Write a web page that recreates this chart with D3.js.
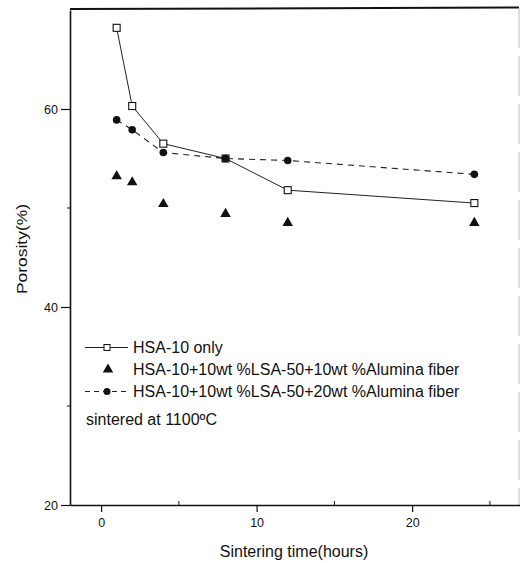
<!DOCTYPE html>
<html>
  <head>
    <meta charset="utf-8" />
    <title>Porosity vs sintering time</title>
    <script src="https://d3js.org/d3.v7.min.js"></script>
    <style>
      body { margin: 0; background: #fff; }
      text { font-family: "Liberation Sans", Arial, sans-serif; fill: #111; }
    </style>
  </head>
  <body>
    <svg width="520" height="563"></svg>
    <script>
      // data
      const hours = [1, 2, 4, 8, 12, 24];
      const hsaOnly = [68.2, 60.3, 56.5, 55.0, 51.8, 50.5];
      const fiber10 = [53.2, 52.6, 50.4, 49.4, 48.5, 48.5];
      const fiber20 = [58.9, 57.9, 55.6, 55.0, 54.8, 53.4];
      const xTicks = [0, 10, 20];
      const yTicks = [20, 40, 60];
      const legendLabels = [
        "HSA-10 only",
        "HSA-10+10wt %LSA-50+10wt %Alumina fiber",
        "HSA-10+10wt %LSA-50+20wt %Alumina fiber"
      ];

      const svg = d3.select("svg");
      const plotL = 70, plotR = 521, plotT = 10, plotB = 505;

      const x = d3.scaleLinear().domain([-2, 27]).range([plotL, plotR]);
      const y = d3.scaleLinear().domain([20, 70]).range([plotB, plotT]);

      // frame
      svg.append("line").attr("x1", plotL).attr("x2", 519).attr("y1", 9).attr("y2", 7.5)
         .attr("stroke", "#111").attr("stroke-width", 2);
      svg.append("line").attr("x1", 519).attr("x2", 519).attr("y1", 8).attr("y2", plotB)
         .attr("stroke", "#bbb").attr("stroke-width", 1).attr("stroke-dasharray", "40,8");

      // axes
      const xAxis = svg.append("g")
        .attr("transform", "translate(0," + plotB + ")")
        .call(d3.axisBottom(x).tickValues(xTicks).tickSize(7).tickPadding(6).tickSizeOuter(0));
      const yAxis = svg.append("g")
        .attr("transform", "translate(" + plotL + ",0)")
        .call(d3.axisLeft(y).tickValues(yTicks).tickSize(9).tickPadding(3).tickSizeOuter(0));
      [xAxis, yAxis].forEach(a => {
        a.select(".domain").attr("stroke", "#111").attr("stroke-width", 1.6);
        a.selectAll(".tick line").attr("stroke", "#111").attr("stroke-width", 1.2);
        a.selectAll("text").style("font-size", "12.5px")
          .style("font-family", "'Liberation Sans', Arial, sans-serif").attr("fill", "#111");
      });

      // minor ticks
      svg.append("g").selectAll("line").data([5, 15, 25]).join("line")
        .attr("x1", d => x(d)).attr("x2", d => x(d))
        .attr("y1", plotB).attr("y2", plotB - 4)
        .attr("stroke", "#111");
      svg.append("g").selectAll("line").data([30, 50]).join("line")
        .attr("x1", plotL).attr("x2", plotL - 3)
        .attr("y1", d => y(d)).attr("y2", d => y(d))
        .attr("stroke", "#111");

      // axis titles
      svg.append("text")
         .attr("x", 294).attr("y", 557)
         .attr("text-anchor", "middle")
         .style("font-size", "16px")
         .text("Sintering time(hours)");
      svg.append("text")
         .attr("transform", "translate(27,249) rotate(-90)")
         .attr("text-anchor", "middle")
         .attr("textLength", 90).attr("lengthAdjust", "spacingAndGlyphs")
         .style("font-size", "14px")
         .text("Porosity(%)");

      const line = d3.line().x(d => x(d[0])).y(d => y(d[1]));

      // HSA-10 only: solid line, open squares
      const s1 = hours.map((h, i) => [h, hsaOnly[i]]);
      svg.append("path").attr("d", line(s1))
         .attr("fill", "none").attr("stroke", "#222").attr("stroke-width", 1);

      // 20 wt% fiber: dashed line, filled circles
      const s3 = hours.map((h, i) => [h, fiber20[i]]);
      svg.append("path").attr("d", line(s3))
         .attr("fill", "none").attr("stroke", "#222").attr("stroke-width", 1.1)
         .attr("stroke-dasharray", "6,5");

      svg.append("g").selectAll("rect").data(s1).join("rect")
        .attr("x", d => x(d[0]) - 3.5).attr("y", d => y(d[1]) - 3.5)
        .attr("width", 7).attr("height", 7)
        .attr("fill", "#fff").attr("stroke", "#111").attr("stroke-width", 1.1);

      svg.append("g").selectAll("circle").data(s3).join("circle")
        .attr("cx", d => x(d[0])).attr("cy", d => y(d[1])).attr("r", 3.8)
        .attr("fill", "#111");

      // 10 wt% fiber: triangles only
      const tri = d3.symbol().type(d3.symbolTriangle).size(48);
      const s2 = hours.map((h, i) => [h, fiber10[i]]);
      svg.append("g").selectAll("path").data(s2).join("path")
        .attr("d", tri)
        .attr("transform", d => "translate(" + x(d[0]) + "," + y(d[1]) + ")")
        .attr("fill", "#111");

      // legend
      const lg = svg.append("g");
      const rows = [347.5, 369.5, 391.5];
      lg.append("line").attr("x1", 85).attr("x2", 128).attr("y1", rows[0]).attr("y2", rows[0])
        .attr("stroke", "#222");
      lg.append("rect").attr("x", 104).attr("y", rows[0] - 3).attr("width", 6).attr("height", 6)
        .attr("fill", "#fff").attr("stroke", "#111");
      lg.append("path").attr("d", tri).attr("transform", "translate(108," + rows[1] + ")")
        .attr("fill", "#111");
      lg.append("line").attr("x1", 85).attr("x2", 130).attr("y1", rows[2]).attr("y2", rows[2])
        .attr("stroke", "#222").attr("stroke-dasharray", "5,4");
      lg.append("circle").attr("cx", 107).attr("cy", rows[2]).attr("r", 3.5).attr("fill", "#111");
      lg.selectAll("text.lab").data(legendLabels).join("text")
        .attr("class", "lab")
        .attr("x", 133).attr("y", (d, i) => rows[i] + 5.5)
        .style("font-size", "16px")
        .text(d => d);
      lg.append("text").attr("x", 86).attr("y", 425)
        .style("font-size", "16px")
        .text("sintered at 1100ºC");
    </script>
  </body>
</html>
